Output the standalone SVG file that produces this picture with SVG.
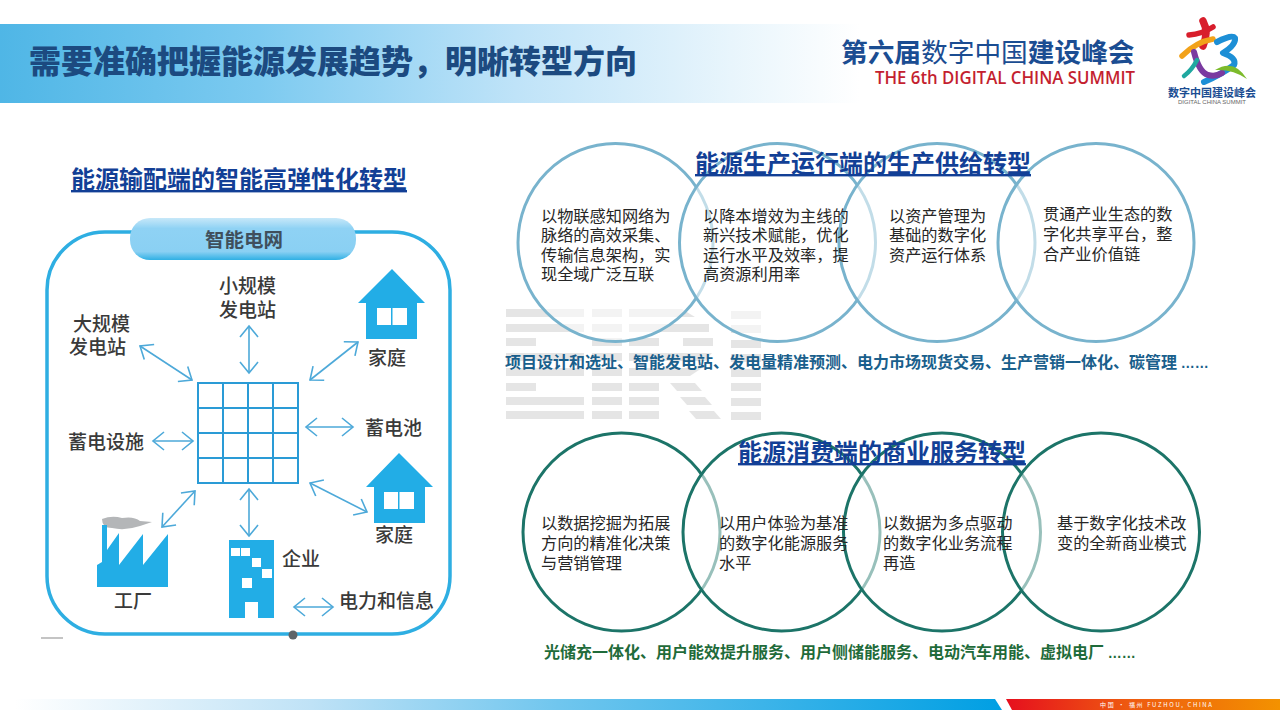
<svg xmlns="http://www.w3.org/2000/svg" width="1280" height="718" viewBox="0 0 1280 718">
<style>
text{font-family:"Noto Sans CJK SC","Liberation Sans",sans-serif}
.hd{font-size:24px;font-weight:700;fill:#123f96;text-decoration:underline}
.b{font-size:16.2px;fill:#262626}
.l{font-size:19px;fill:#3a3a3a;font-weight:500}
.c1{fill:#fff;fill-opacity:.55;stroke:#78b3cd;stroke-width:3}
.c2{fill:#fff;fill-opacity:.55;stroke:#1c7468;stroke-width:3}
.ic{fill:#22ade6}
.wm rect,.wm path{fill:#000;fill-opacity:.1}
.ar{fill:none;stroke:#4da9d9;stroke-width:1.6;marker-start:url(#oa);marker-end:url(#oa)}
.lg{fill:none;stroke-linecap:round;stroke-linejoin:round}
.dots{font-family:"Liberation Sans",sans-serif;font-size:14px}
</style>
<defs>
<marker id="oa" viewBox="-13 -10 15 20" markerWidth="15" markerHeight="20" markerUnits="userSpaceOnUse" orient="auto-start-reverse" refX="0" refY="0"><path d="M-11-9 0 0-11 9" fill="none" stroke="#4da9d9" stroke-width="1.6"/></marker>
<linearGradient id="tb" x1="0" x2="1" y1="0" y2="0"><stop offset="0" stop-color="#4fb6e6"/><stop offset=".3" stop-color="#7ccaf0"/><stop offset=".6" stop-color="#bfe3f8"/><stop offset=".85" stop-color="#e8f5fc"/><stop offset="1" stop-color="#fff"/></linearGradient>
<linearGradient id="fb" x1="0" x2="1" y1="0" y2="0"><stop offset="0" stop-color="#fff"/><stop offset=".3" stop-color="#bfe2f6"/><stop offset=".55" stop-color="#70c6ee"/><stop offset="1" stop-color="#009fe3"/></linearGradient>
<linearGradient id="fr" x1="0" x2="1" y1="0" y2="0"><stop offset="0" stop-color="#e60f1e"/><stop offset=".45" stop-color="#ee5a10"/><stop offset="1" stop-color="#f39200"/></linearGradient>
<linearGradient id="pl" x1="0" x2="0" y1="0" y2="1"><stop offset="0" stop-color="#c7e8f9"/><stop offset=".25" stop-color="#8fd2f4"/><stop offset=".8" stop-color="#8ad0f3"/><stop offset="1" stop-color="#2fb0e4"/></linearGradient>
</defs>
<rect width="1280" height="718" fill="#fff"/>

<g id="title-bar">
<rect x="0" y="24" width="860" height="79" fill="url(#tb)"/>
<text x="29" y="73" font-size="32" font-weight="900" fill="#1c4a80">需要准确把握能源发展趋势，明晰转型方向</text>
</g>

<g id="summit-header">
<text x="841" y="62" font-size="26.7" font-weight="700" fill="#1b4d92">第六届<tspan font-weight="400">数字中国</tspan>建设峰会</text>
<text x="875" y="84" font-size="18" font-weight="600" fill="#c41f30" style="font-family:'Open Sans','Liberation Sans',sans-serif" textLength="260" lengthAdjust="spacingAndGlyphs">THE 6th DIGITAL CHINA SUMMIT</text>
</g>
<g id="summit-logo">
<path class="lg" d="M1203 21Q1209 32 1203 46" stroke="#d81e2c" stroke-width="7.500"/>
<path class="lg" d="M1189 35Q1202 34 1213 27" stroke="#d81e2c" stroke-width="5.500"/>
<path class="lg" d="M1182 56Q1196 42 1213 39" stroke="#f2a21a" stroke-width="5.500"/>
<path class="lg" d="M1217 42Q1232 34 1235 38Q1236 45 1223 53Q1237 58 1234 65Q1222 74 1204 82" stroke="#1d8fd6" stroke-width="6"/>
<path class="lg" d="M1194 52Q1199 72 1208 75Q1216 77 1222 73" stroke="#7a3aa0" stroke-width="6"/>
<path class="lg" d="M1184 76Q1192 70 1197 60" stroke="#20a8a0" stroke-width="4.500"/>
<path d="M1215 70Q1234 58 1247 79Q1233 69 1215 70Z" fill="#7dbb2c"/>
<text x="1168" y="97" font-size="11" font-weight="700" fill="#1b4d92">数字中国建设峰会</text>
<text x="1178" y="104" font-size="6" fill="#666" style="font-family:'Liberation Sans',sans-serif" textLength="68">DIGITAL CHINA SUMMIT</text>
</g>

<g id="watermark" class="wm">
<rect x="506" y="309" width="78" height="8"/><rect x="506" y="324" width="78" height="8"/><rect x="506" y="338" width="30" height="8"/><rect x="506" y="353" width="78" height="8"/><rect x="506" y="368" width="78" height="8"/><rect x="506" y="383" width="30" height="8"/><rect x="506" y="397" width="78" height="8"/><rect x="506" y="411" width="78" height="8"/>
<rect x="592" y="309" width="30" height="8"/><rect x="592" y="324" width="30" height="8"/><rect x="592" y="338" width="30" height="8"/><rect x="592" y="353" width="30" height="8"/><rect x="592" y="368" width="30" height="8"/><rect x="592" y="383" width="30" height="8"/><rect x="592" y="397" width="30" height="8"/><rect x="592" y="411" width="30" height="8"/>
<path d="M629 309H682L695 317H629Z"/><rect x="629" y="324" width="80" height="8"/><rect x="629" y="338" width="30" height="8"/><rect x="683" y="338" width="30" height="8"/><path d="M629 353H712L705 361H629Z"/><path d="M629 368H702L690 376H629Z"/><rect x="629" y="383" width="30" height="8"/><path d="M670 383H695L702 391H677Z"/><rect x="629" y="397" width="30" height="8"/><path d="M680 397H705L712 405H687Z"/><rect x="629" y="411" width="30" height="8"/><path d="M689 411H714L721 419H696Z"/>
<rect x="731" y="311" width="30" height="8"/><rect x="731" y="325" width="30" height="8"/><rect x="731" y="340" width="30" height="8"/><rect x="731" y="354" width="30" height="8"/><rect x="731" y="369" width="30" height="8"/><rect x="731" y="383" width="30" height="8"/><rect x="731" y="398" width="30" height="8"/><rect x="731" y="412" width="30" height="8"/>
</g>

<g id="smart-grid-heading"><text class="hd" x="71" y="188">能源输配端的智能高弹性化转型</text></g>

<g id="smart-grid-frame">
<rect x="47" y="232" width="403" height="402" rx="58" fill="#fff" stroke="#2eaee2" stroke-width="3.500"/>
<circle cx="293" cy="635" r="4.500" fill="#5f6468"/>
<rect x="41" y="637" width="22" height="2" fill="#c4c4c4"/>
</g>
<g id="smart-grid-pill">
<rect x="130" y="218" width="226" height="42" rx="20" fill="url(#pl)"/>
<text x="205" y="247" font-size="19.500" font-weight="700" fill="#3f4f5c">智能电网</text>
</g>

<g id="connectors">
<path class="ar" d="M140 346 192 380"/>
<path class="ar" d="M249 326V373"/>
<path class="ar" d="M358 342 310 380"/>
<path class="ar" d="M306 427H353"/>
<path class="ar" d="M153 441H193"/>
<path class="ar" d="M310 483 367 512"/>
<path class="ar" d="M249 489V536"/>
<path class="ar" d="M195 491 162 527"/>
<path class="ar" d="M294 607H333"/>
</g>

<g id="grid-hub" fill="none" stroke="#2a9bd6" stroke-width="2">
<rect x="198" y="383" width="100" height="100"/>
<path d="M223 383V483M248 383V483M273 383V483M198 408H298M198 433H298M198 458H298"/>
</g>
<g id="small-plant"><text class="l"><tspan x="219" y="293">小规模</tspan><tspan x="219" y="317">发电站</tspan></text></g>
<g id="large-plant"><text class="l"><tspan x="73" y="331">大规模</tspan><tspan x="69" y="354">发电站</tspan></text></g>
<g id="home-1">
<path class="ic" d="M392 269 425 303H417V339H366V303H358Z"/>
<rect x="377" y="308" width="30" height="17" fill="#fff"/><rect x="391" y="308" width="1.500" height="17" fill="#22ade6"/>
<text class="l" x="368" y="365">家庭</text>
</g>
<g id="battery"><text class="l" x="365" y="435">蓄电池</text></g>
<g id="storage"><text class="l" x="68" y="449">蓄电设施</text></g>
<g id="home-2">
<path class="ic" d="M399 453 433 487H425V523H374V487H366Z"/>
<rect x="384" y="492" width="30" height="17" fill="#fff"/><rect x="398" y="492" width="1.500" height="17" fill="#22ade6"/>
<text class="l" x="375" y="542">家庭</text>
</g>
<g id="factory">
<path d="M102 519Q112 515 122 518Q134 516 140 521L152 522 140 526Q125 531 112 528Q102 528 102 519Z" fill="#b4b6b8"/>
<path class="ic" d="M97 587V565L102 562V525H107V550L119 533V565L143 534V565L168 534V587Z"/>
<text class="l" x="114" y="608">工厂</text>
</g>
<g id="enterprise">
<path class="ic" d="M229 540H274V618H258V602H245V618H229Z"/>
<path fill="#fff" d="M231 548H240V556H231ZM241 548H250V556H241ZM252 558H261V567H252ZM262 569H272V578H262ZM242 578H252V588H242Z"/>
<text class="l" x="282" y="566">企业</text>
</g>
<g id="legend"><text class="l" x="339" y="608">电力和信息</text></g>

<g id="supply-heading-group">
<ellipse class="c1" cx="615.500" cy="242.500" rx="97.500" ry="99"/>
<ellipse class="c1" cx="777.500" cy="242.500" rx="98" ry="99"/>
<ellipse class="c1" cx="937" cy="242.500" rx="98" ry="99"/>
<ellipse class="c1" cx="1096" cy="242.500" rx="98" ry="99"/>
<text class="hd" x="695" y="172">能源生产运行端的生产供给转型</text>
</g>
<g id="supply-1"><text class="b"><tspan x="541" y="222">以物联感知网络为</tspan><tspan x="541" y="241">脉络的高效采集、</tspan><tspan x="541" y="261">传输信息架构，实</tspan><tspan x="541" y="280">现全域广泛互联</tspan></text></g>
<g id="supply-2"><text class="b"><tspan x="703" y="222">以降本增效为主线的</tspan><tspan x="703" y="241">新兴技术赋能，优化</tspan><tspan x="703" y="261">运行水平及效率，提</tspan><tspan x="703" y="280">高资源利用率</tspan></text></g>
<g id="supply-3"><text class="b"><tspan x="889" y="222">以资产管理为</tspan><tspan x="889" y="241">基础的数字化</tspan><tspan x="889" y="261">资产运行体系</tspan></text></g>
<g id="supply-4"><text class="b"><tspan x="1043" y="220">贯通产业生态的数</tspan><tspan x="1043" y="240">字化共享平台，整</tspan><tspan x="1043" y="260">合产业价值链</tspan></text></g>
<g id="supply-list"><text x="505" y="368" font-size="16" font-weight="700" fill="#1a5f8c">项目设计和选址、智能发电站、发电量精准预测、电力市场现货交易、生产营销一体化、碳管理 <tspan class="dots">……</tspan></text></g>

<g id="consumption-heading-group">
<ellipse class="c2" cx="621.500" cy="532" rx="98.500" ry="99"/>
<ellipse class="c2" cx="781.500" cy="532" rx="98.500" ry="99"/>
<ellipse class="c2" cx="942" cy="532" rx="98.500" ry="99"/>
<ellipse class="c2" cx="1101" cy="532" rx="98.500" ry="99"/>
<text class="hd" x="738" y="461">能源消费端的商业服务转型</text>
</g>
<g id="consumption-1"><text class="b"><tspan x="541" y="529">以数据挖掘为拓展</tspan><tspan x="541" y="549">方向的精准化决策</tspan><tspan x="541" y="569">与营销管理</tspan></text></g>
<g id="consumption-2"><text class="b"><tspan x="719" y="529">以用户体验为基准</tspan><tspan x="719" y="549">的数字化能源服务</tspan><tspan x="719" y="569">水平</tspan></text></g>
<g id="consumption-3"><text class="b"><tspan x="883" y="529">以数据为多点驱动</tspan><tspan x="883" y="549">的数字化业务流程</tspan><tspan x="883" y="569">再造</tspan></text></g>
<g id="consumption-4"><text class="b"><tspan x="1057" y="529">基于数字化技术改</tspan><tspan x="1057" y="549">变的全新商业模式</tspan></text></g>
<g id="consumption-list"><text x="544" y="658" font-size="16" font-weight="700" fill="#1f6b3a">光储充一体化、用户能效提升服务、用户侧储能服务、电动汽车用能、虚拟电厂 <tspan class="dots">……</tspan></text></g>

<g id="footer">
<path d="M15 699H995L1002 710H15Z" fill="url(#fb)"/>
<path d="M1006 699H1280V710H1012Z" fill="url(#fr)"/>
<text x="1100" y="707" font-size="6" fill="#fff" textLength="112">中国 · 福州  FUZHOU, CHINA</text>
</g>
</svg>
